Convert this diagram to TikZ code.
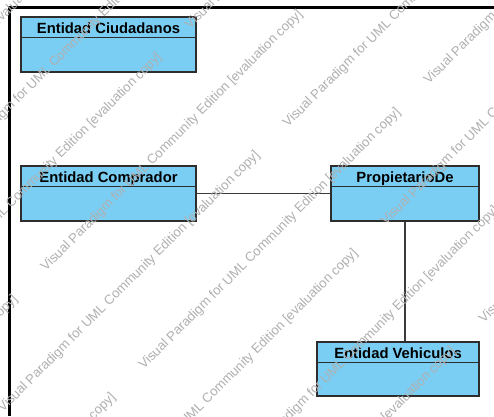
\documentclass[tikz,border=0pt]{standalone}
\usepackage{fontspec}
\setmainfont{Liberation Sans}
\usetikzlibrary{calc}

\definecolor{classfill}{RGB}{122,206,244}
\definecolor{classline}{RGB}{45,45,45}
\definecolor{assocline}{RGB}{60,60,60}
\definecolor{wmark}{RGB}{176,176,176}

\tikzset{
  umlclass/.style={draw=classline, fill=classfill, line width=1.5bp, inner sep=0pt},
  classsep/.style={draw=classline, line width=1.5bp},
  classtitle/.style={font=\fontsize{14.8bp}{16bp}\selectfont\bfseries, inner sep=0pt, anchor=base},
  assoc/.style={draw=assocline, line width=1.8bp},
  frameline/.style={draw=black, line width=3bp},
  wmtext/.style={font=\fontsize{13.2bp}{15bp}\selectfont, text=wmark, rotate=45, anchor=west, inner sep=0pt},
}

% #1 name, #2 x, #3 y (centre), #4 width, #5 height, #6 title
\newcommand\classbox[6]{%
  \node[umlclass, minimum width=#4bp, minimum height=#5bp] (#1) at (#2,#3) {};
  \draw[classsep] ($(#1.north west)+(0,-21.3)$) -- ($(#1.north east)+(0,-21.3)$);
  \node[classtitle] (#1-title) at ($(#1.north)+(0,-16.8)$) {#6};
}

\begin{document}
\begin{tikzpicture}[x=1bp, y=1bp]
  \useasboundingbox (0,0) rectangle (494,416);
  \fill[white] (0,0) rectangle (494,416);

  % diagram frame
  \draw[frameline] (9.5,0) -- (9.5,408) -- (494,408);

  % classes
  \classbox{ciud}{108.5}{371.5}{175}{55}{Entidad Ciudadanos}
  \classbox{comp}{108.5}{222.5}{175}{55}{Entidad Comprador}
  \classbox{prop}{405}{222.5}{148}{55}{PropietarioDe}
  \classbox{vehi}{398}{47}{162}{54}{Entidad Vehiculos}

  % associations
  \draw[assoc] (comp.east) -- (prop.west);
  \draw[assoc] (prop.south) -- (prop.south |- vehi.north);

  % evaluation watermark
  \begin{scope}
    \clip (0,0) rectangle (494,416);
    \foreach \S/\uo in {117/-160, 313/-160, 509/-160, 705/-160,
                        19/113, 215/113, 411/113, 607/113, 803/113}{
      \foreach \n in {-1,0,1}{
        \pgfmathsetmacro\uu{\uo+403*\n}
        \pgfmathsetmacro\wx{(\S+\uu*1.41421)/2}
        \pgfmathsetmacro\wy{416-(\S-\uu*1.41421)/2}
        \node[wmtext] (wm-\S-\n) at (\wx,\wy)
          {Visual Paradigm for UML Community Edition [evaluation copy]};
      }
    }
  \end{scope}
\end{tikzpicture}
\end{document}
